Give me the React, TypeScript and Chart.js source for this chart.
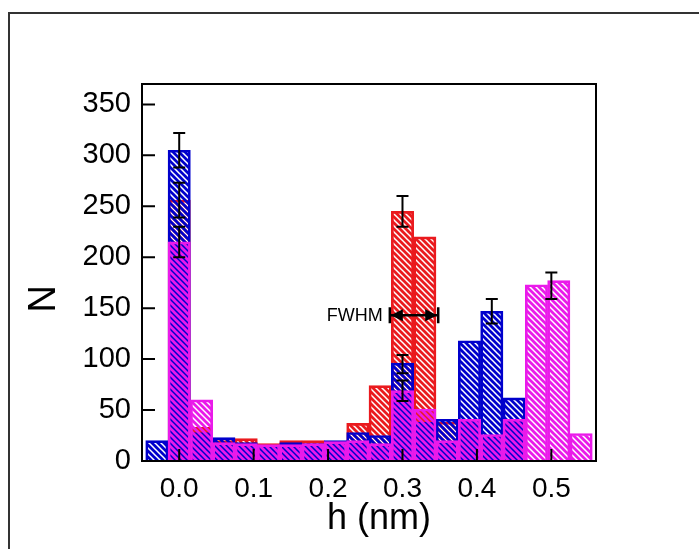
import React, { useEffect, useRef } from 'react';
import { Chart, registerables } from 'chart.js';
Chart.register(...registerables);

// Histogram bin centres (nm)
const binCenters = [-0.03, 0, 0.03, 0.06, 0.09, 0.12, 0.15, 0.18, 0.21, 0.24, 0.27, 0.30, 0.33, 0.36, 0.39, 0.42, 0.45, 0.48, 0.51, 0.54];
const blueCounts = [20, 305, 28, 23, 18, 15, 18, 17, 20, 28, 25, 96, 38, 41, 118, 147, 62, null, null, null];
const redCounts = [null, 256, 33, 20, 22, 17, 20, 20, 18, 37, 74, 245, 220, 38, null, null, null, null, null, null];
const magentaCounts = [null, 215, 60, 18, 17, 16, 16, 17, 19, 20, 17, 69, 51, 20, 41, 26, 41, 173, 177, 27];

const xTickValues = [0, 0.1, 0.2, 0.3, 0.4, 0.5];
const yTickValues = [0, 50, 100, 150, 200, 250, 300, 350];

// Error bars
const errX = [0, 0, 0, 0.30, 0.30, 0.30, 0.42, 0.50];
const errY = [305, 256, 215, 245, 95, 69, 147, 172];
const errD = [17, 17, 15, 15, 9, 10, 12, 13];

// FWHM annotation
const fwhmLabel = 'FWHM';
const fwhmLeft = 0.283;
const fwhmRight = 0.348;
const fwhmY = 143;

const BLUE = '#0000cc';
const RED = '#ea1a1e';
const MAGENTA = '#ea1aea';
const FONT = "'Liberation Sans', Arial, sans-serif";

function makePattern(color: string, off: number): CanvasPattern | string {
  const s = 6;
  const c = document.createElement('canvas');
  c.width = s;
  c.height = s;
  const g = c.getContext('2d');
  if (!g) return color;
  g.fillStyle = color;
  g.fillRect(0, 0, s, s);
  g.globalCompositeOperation = 'destination-out';
  g.lineWidth = 1.5;
  g.beginPath();
  for (let k = -2; k <= 2; k++) {
    const x0 = k * s + off;
    g.moveTo(x0 - 2, -2);
    g.lineTo(x0 + s + 2, s + 2);
  }
  g.stroke();
  const p = g.createPattern(c, 'repeat');
  return p || color;
}

const framePlugin = {
  id: 'frameTicks',
  afterDatasetsDraw(chart: any) {
    const { ctx, chartArea: a, scales } = chart;
    const x = scales.x;
    const y = scales.y;
    ctx.save();
    ctx.strokeStyle = '#000';
    ctx.lineWidth = 2;
    ctx.strokeRect(a.left, a.top, a.right - a.left, a.bottom - a.top);
    ctx.beginPath();
    xTickValues.forEach((v) => {
      const px = x.getPixelForValue(v);
      ctx.moveTo(px, a.bottom);
      ctx.lineTo(px, a.bottom - 12);
    });
    yTickValues.forEach((v) => {
      const py = y.getPixelForValue(v);
      ctx.moveTo(a.left, py);
      ctx.lineTo(a.left + 13, py);
    });
    ctx.stroke();
    ctx.restore();
  },
};

const errorBarPlugin = {
  id: 'errorBars',
  afterDatasetsDraw(chart: any) {
    const { ctx, scales } = chart;
    const x = scales.x;
    const y = scales.y;
    ctx.save();
    ctx.strokeStyle = '#000';
    ctx.lineWidth = 2;
    errX.forEach((xv, i) => {
      const px = x.getPixelForValue(xv);
      const top = y.getPixelForValue(errY[i] + errD[i]);
      const bot = y.getPixelForValue(errY[i] - errD[i]);
      ctx.beginPath();
      ctx.moveTo(px, top);
      ctx.lineTo(px, bot);
      ctx.moveTo(px - 6, top);
      ctx.lineTo(px + 6, top);
      ctx.moveTo(px - 6, bot);
      ctx.lineTo(px + 6, bot);
      ctx.stroke();
    });
    ctx.restore();
  },
};

const fwhmPlugin = {
  id: 'fwhm',
  afterDatasetsDraw(chart: any) {
    const { ctx, scales } = chart;
    const x1 = scales.x.getPixelForValue(fwhmLeft);
    const x2 = scales.x.getPixelForValue(fwhmRight);
    const py = scales.y.getPixelForValue(fwhmY);
    ctx.save();
    ctx.fillStyle = '#000';
    ctx.strokeStyle = '#000';
    ctx.font = `18px ${FONT}`;
    ctx.textAlign = 'right';
    ctx.textBaseline = 'middle';
    ctx.fillText(fwhmLabel, x1 - 7, py + 1);
    ctx.lineWidth = 2.5;
    ctx.beginPath();
    ctx.moveTo(x1, py);
    ctx.lineTo(x2, py);
    ctx.moveTo(x1, py - 8);
    ctx.lineTo(x1, py + 8);
    ctx.moveTo(x2, py - 8);
    ctx.lineTo(x2, py + 8);
    ctx.stroke();
    ctx.beginPath();
    ctx.moveTo(x1 + 1, py);
    ctx.lineTo(x1 + 13, py - 6);
    ctx.lineTo(x1 + 13, py + 6);
    ctx.closePath();
    ctx.moveTo(x2 - 1, py);
    ctx.lineTo(x2 - 13, py - 6);
    ctx.lineTo(x2 - 13, py + 6);
    ctx.closePath();
    ctx.fill();
    ctx.restore();
  },
};

export default function App() {
  const ref = useRef<HTMLCanvasElement | null>(null);

  useEffect(() => {
    const canvas = ref.current;
    if (!canvas) return;
    const toPts = (arr: (number | null)[]) => binCenters.map((b, i) => ({ x: b, y: arr[i] }));
    const mk = (label: string, arr: (number | null)[], color: string, off: number, order: number) => ({
      label,
      data: toPts(arr),
      backgroundColor: makePattern(color, off),
      borderColor: color,
      borderWidth: 2,
      grouped: false,
      barPercentage: 1,
      categoryPercentage: 1,
      order,
    });
    const chart = new Chart(canvas, {
      type: 'bar',
      data: {
        datasets: [
          mk('magenta', magentaCounts, MAGENTA, 3, 0),
          mk('blue', blueCounts, BLUE, 0, 1),
          mk('red', redCounts, RED, 0, 2),
        ] as any,
      },
      options: {
        animation: false,
        responsive: false,
        maintainAspectRatio: false,
        layout: { padding: { top: 84, right: 103, left: 0, bottom: 0 } },
        plugins: { legend: { display: false }, tooltip: { enabled: false } },
        scales: {
          x: {
            type: 'linear',
            min: -0.05,
            max: 0.56,
            offset: false,
            grid: { display: false, drawTicks: false, offset: false },
            border: { display: false },
            afterBuildTicks: (s: any) => {
              s.ticks = xTickValues.map((v) => ({ value: v }));
            },
            afterFit: (s: any) => {
              s.height = 88;
            },
            ticks: {
              padding: 11,
              color: '#000',
              font: { family: FONT, size: 28 },
              callback: (v: any) => Number(v).toFixed(1),
            },
            title: {
              display: true,
              text: '  h (nm)',
              color: '#000',
              font: { family: FONT, size: 36 },
              padding: { top: 0, bottom: 8 },
            },
          },
          y: {
            min: 0,
            max: 370,
            grid: { display: false, drawTicks: false },
            border: { display: false },
            afterBuildTicks: (s: any) => {
              s.ticks = yTickValues.map((v) => ({ value: v }));
            },
            afterFit: (s: any) => {
              s.width = 142;
            },
            ticks: {
              padding: 11,
              color: '#000',
              font: { family: FONT, size: 29 },
            },
            title: {
              display: true,
              text: 'N     ',
              color: '#000',
              font: { family: FONT, size: 38 },
              padding: { top: 22, bottom: 0 },
            },
          },
        },
      } as any,
      plugins: [framePlugin, errorBarPlugin, fwhmPlugin],
    });
    return () => chart.destroy();
  }, []);

  return (
    <div>
      <div
        style={{
          position: 'fixed',
          left: 8,
          top: 12,
          width: 800,
          height: 700,
          borderTop: '2px solid #333',
          borderLeft: '2px solid #333',
          boxSizing: 'border-box',
        }}
      />
      <canvas
        ref={ref}
        width={699}
        height={549}
        style={{ position: 'fixed', left: 0, top: 0, display: 'block' }}
      />
    </div>
  );
}
